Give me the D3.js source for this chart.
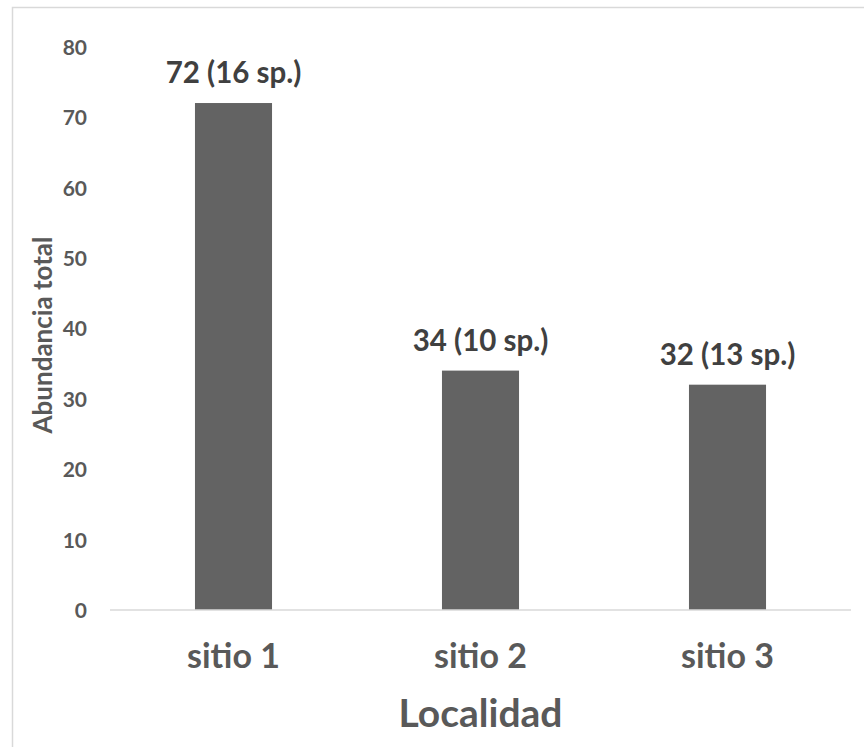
<!DOCTYPE html>
<html>
<head>
<meta charset="utf-8">
<script src="https://cdn.jsdelivr.net/npm/d3@7"></script>
<style>
  html, body { margin: 0; padding: 0; background: #ffffff; }
  svg { display: block; }
  text { font-family: Lato, "Open Sans", sans-serif; font-weight: 700; }
</style>
</head>
<body>
<div id="chart"></div>
<script>
// Abundancia total por localidad
const categories = ["sitio 1", "sitio 2", "sitio 3"];
const abundance = [72, 34, 32];
const species = [16, 10, 13];
const yTicks = [0, 10, 20, 30, 40, 50, 60, 70, 80];

const W = 864, H = 747;
const plot = { left: 110, right: 851, top: 46.7, bottom: 610 };

const svg = d3.select("#chart").append("svg")
  .attr("width", W).attr("height", H);

// chart frame
svg.append("rect")
  .attr("x", 12.5).attr("y", 7.5)
  .attr("width", W).attr("height", H)
  .attr("fill", "#ffffff")
  .attr("stroke", "#d9d9d9").attr("stroke-width", 1.5);

const x = d3.scaleBand()
  .domain(categories)
  .range([plot.left, plot.right])
  .paddingInner(0.688)
  .paddingOuter(0.344);

const y = d3.scaleLinear()
  .domain([0, 80])
  .range([plot.bottom, plot.top]);

// y axis: labels only
const yAxis = d3.axisLeft(y).tickValues(yTicks).tickSize(0).tickPadding(0);
const gy = svg.append("g")
  .attr("transform", `translate(${plot.left - 23},0)`)
  .call(yAxis);
gy.select(".domain").remove();
gy.selectAll("text")
  .attr("fill", "#595959")
  .attr("font-size", 21)
  .attr("text-anchor", "end")
  .attr("dx", 0)
  .attr("dy", "0.36em");

// bars
svg.append("g").selectAll("rect")
  .data(categories)
  .join("rect")
  .attr("x", d => x(d))
  .attr("width", x.bandwidth())
  .attr("y", (d, i) => y(abundance[i]))
  .attr("height", (d, i) => y(0) - y(abundance[i]))
  .attr("fill", "#636363");

// x axis baseline and category labels
const xAxis = d3.axisBottom(x).tickSize(0).tickPadding(0);
const gx = svg.append("g")
  .attr("transform", `translate(0,${plot.bottom})`)
  .call(xAxis);
gx.select(".domain")
  .attr("stroke", "#d9d9d9").attr("stroke-width", 1.5)
  .attr("d", `M${plot.left},0H${plot.right}`);
gx.selectAll("text")
  .attr("fill", "#595959")
  .attr("font-size", 34)
  .attr("y", 58)
  .attr("dy", 0);

// value labels
svg.append("g").selectAll("text")
  .data(categories)
  .join("text")
  .attr("x", d => x(d) + x.bandwidth() / 2)
  .attr("y", (d, i) => y(abundance[i]) - 20)
  .attr("text-anchor", "middle")
  .attr("fill", "#404040")
  .attr("font-size", 29.5)
  .text((d, i) => `${abundance[i]} (${species[i]} sp.)`);

// axis titles
svg.append("text")
  .attr("transform", `translate(52,335) rotate(-90)`)
  .attr("text-anchor", "middle")
  .attr("fill", "#595959")
  .attr("font-size", 26)
  .text("Abundancia total");

svg.append("text")
  .attr("x", (plot.left + plot.right) / 2)
  .attr("y", 727)
  .attr("text-anchor", "middle")
  .attr("fill", "#595959")
  .attr("font-size", 39)
  .text("Localidad");
</script>
</body>
</html>
